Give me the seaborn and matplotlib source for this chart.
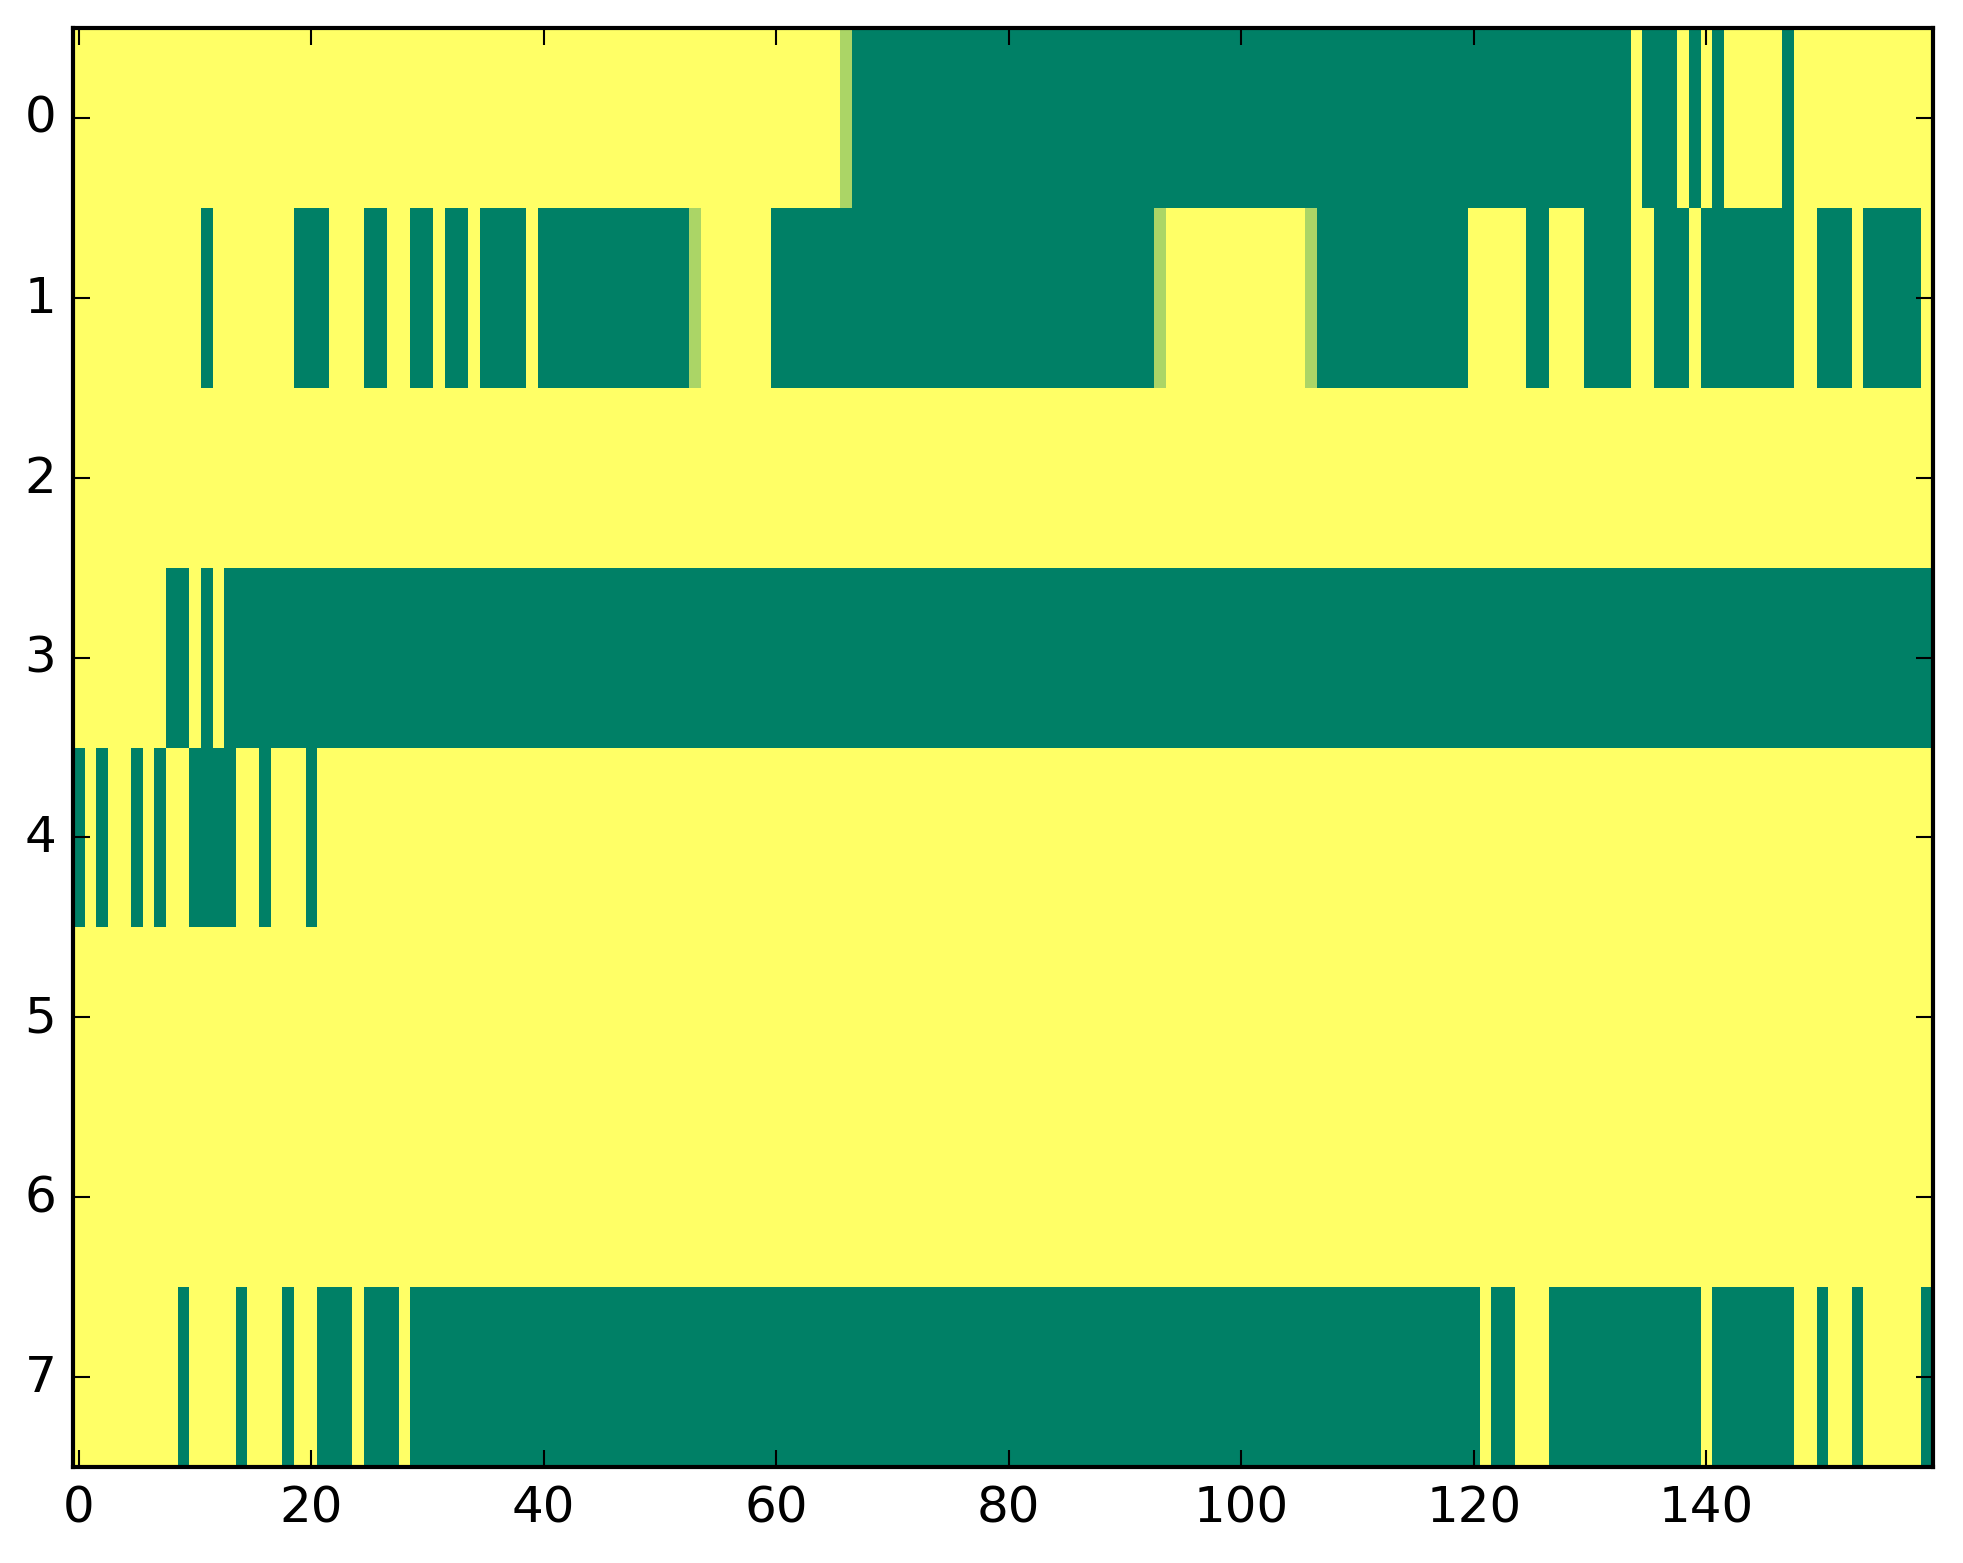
import numpy as np
import matplotlib
matplotlib.use("Agg")
import matplotlib.pyplot as plt
import seaborn as sns

# grid size (rows x columns)
n_rows = 8
n_cols = 160

# values: 1 = high (yellow), 0 = low (green), mid_value = transition cells
mid_value = 0.67

# runs of low-valued columns per row, inclusive (start, end)
row0_low = [(67, 133), (135, 137), (139, 139), (141, 141), (147, 147)]
row1_low = [(11, 11), (19, 21), (25, 26), (29, 30), (32, 33), (35, 38), (40, 52),
            (60, 92), (107, 119), (125, 126), (130, 133), (136, 138), (140, 147),
            (150, 152), (154, 158)]
row2_low = []
row3_low = [(8, 9), (11, 11), (13, 159)]
row4_low = [(0, 0), (2, 2), (5, 5), (7, 7), (10, 13), (16, 16), (20, 20)]
row5_low = []
row6_low = []
row7_low = [(9, 9), (14, 14), (18, 18), (21, 23), (25, 27), (29, 120), (122, 123),
            (127, 139), (141, 147), (150, 150), (153, 153), (159, 159)]

# transition columns per row
row0_mid = [66]
row1_mid = [53, 93, 106]

low_runs = [row0_low, row1_low, row2_low, row3_low, row4_low, row5_low, row6_low, row7_low]
mid_cells = {0: row0_mid, 1: row1_mid}

x_tick_values = [0, 20, 40, 60, 80, 100, 120, 140]
y_tick_values = [0, 1, 2, 3, 4, 5, 6, 7]


def build_matrix():
    grid = np.ones((n_rows, n_cols))
    for r, runs in enumerate(low_runs):
        for a, b in runs:
            grid[r, a:b + 1] = 0.0
    for r, cols in mid_cells.items():
        for c in cols:
            grid[r, c] = mid_value
    return grid


def plot_grid(grid):
    W, H, dpi = 1963, 1564, 300
    fig = plt.figure(figsize=(W / dpi, H / dpi), dpi=dpi)
    ax = fig.add_axes([73 / W, (H - 1468) / H, 1860 / W, 1439 / H])

    sns.heatmap(grid, ax=ax, cmap="summer", vmin=0, vmax=1, cbar=False,
                xticklabels=False, yticklabels=False, linewidths=0)

    for s in ax.spines.values():
        s.set_visible(True)
        s.set_linewidth(1.0)
        s.set_color("black")

    ax.set_xticks([v + 0.5 for v in x_tick_values])
    ax.set_xticklabels([str(v) for v in x_tick_values], rotation=0, fontsize=12)
    ax.set_yticks([v + 0.5 for v in y_tick_values])
    ax.set_yticklabels([str(v) for v in y_tick_values], rotation=0, fontsize=12, va="center")
    ax.tick_params(direction="in", top=True, right=True, length=4, width=0.5,
                   pad=4, colors="black", labelcolor="black")
    ax.set_xlabel("")
    ax.set_ylabel("")

    fig.savefig("out.png", dpi=dpi)


if __name__ == "__main__":
    plot_grid(build_matrix())
